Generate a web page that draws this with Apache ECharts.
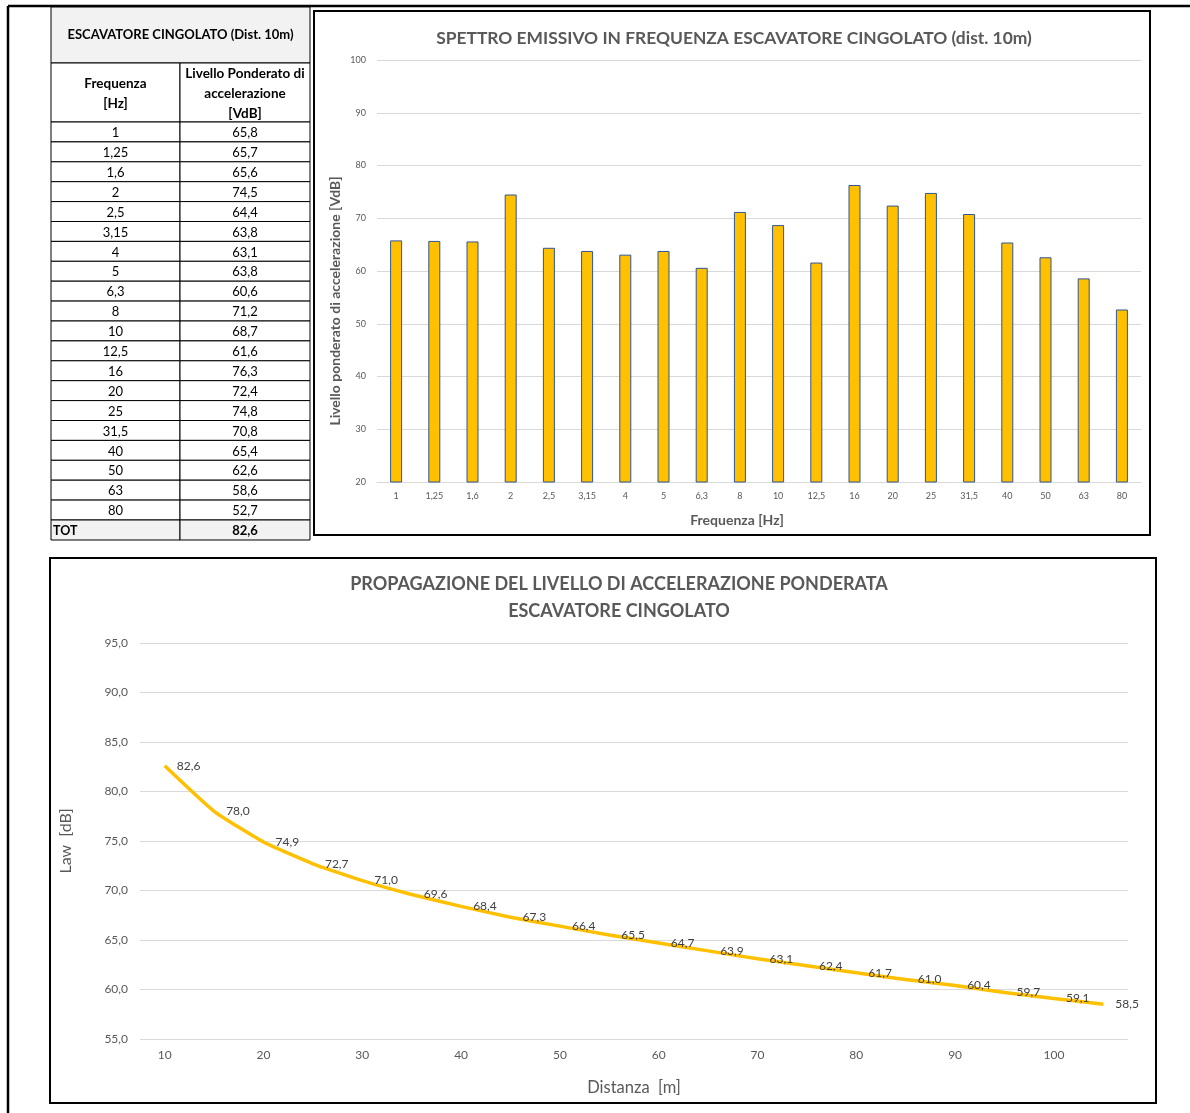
<!DOCTYPE html>
<html><head><meta charset="utf-8">
<script src="https://cdn.jsdelivr.net/npm/echarts@6/dist/echarts.min.js"></script>
<style>html,body{margin:0;padding:0;background:#fff}#c{width:1190px;height:1113px}</style>
</head><body><div id="c"></div>
<script>
// ---- DATA ----
const frequencies = ['1','1,25','1,6','2','2,5','3,15','4','5','6,3','8','10','12,5','16','20','25','31,5','40','50','63','80'];
const levels = [65.8,65.7,65.6,74.5,64.4,63.8,63.1,63.8,60.6,71.2,68.7,61.6,76.3,72.4,74.8,70.8,65.4,62.6,58.6,52.7];
const totalLevel = 82.6;
const distances = ['10','15','20','25','30','35','40','45','50','55','60','65','70','75','80','85','90','95','100','105'];
const lawValues = [82.6,78.0,74.9,72.7,71.0,69.6,68.4,67.3,66.4,65.5,64.7,63.9,63.1,62.4,61.7,61.0,60.4,59.7,59.1,58.5];

const FONT = 'Lato, "Open Sans", sans-serif';
const GRAY = '#595959';
const fmt1 = v => Number(v).toFixed(1).replace('.', ',');

// ---- TABLE (graphic) ----
const tX0 = 51, tX1 = 180, tX2 = 310;
const g = [];
g.push({type:'line', shape:{x1:8,y1:6,x2:8,y2:1113}, style:{stroke:'#000',lineWidth:2.5}});
g.push({type:'line', shape:{x1:8,y1:6,x2:1190,y2:6}, style:{stroke:'#000',lineWidth:2.5}});
g.push({type:'rect', shape:{x:314,y:11,width:836,height:524}, style:{fill:'none',stroke:'#000',lineWidth:2}});
g.push({type:'rect', shape:{x:50,y:558,width:1106,height:545}, style:{fill:'none',stroke:'#000',lineWidth:2}});
g.push({type:'rect', shape:{x:tX0,y:7,width:tX2-tX0,height:56}, style:{fill:'#f2f2f2',stroke:'#000',lineWidth:1}});
g.push({type:'text', x:(tX0+tX2)/2, y:35, style:{text:'ESCAVATORE CINGOLATO (Dist. 10m)', font:'bold 13px '+FONT, fill:'#000', align:'center', verticalAlign:'middle'}});
g.push({type:'rect', shape:{x:tX0,y:63,width:tX1-tX0,height:59}, style:{fill:'#fff',stroke:'#000',lineWidth:1}});
g.push({type:'rect', shape:{x:tX1,y:63,width:tX2-tX1,height:59}, style:{fill:'#fff',stroke:'#000',lineWidth:1}});
g.push({type:'text', x:(tX0+tX1)/2, y:94, style:{text:'Frequenza\n[Hz]', font:'bold 13.5px '+FONT, lineHeight:20, fill:'#000', align:'center', verticalAlign:'middle'}});
g.push({type:'text', x:(tX1+tX2)/2, y:94, style:{text:'Livello Ponderato di\naccelerazione\n[VdB]', font:'bold 13.5px '+FONT, lineHeight:20, fill:'#000', align:'center', verticalAlign:'middle'}});
const rowH = (520-122)/frequencies.length;
frequencies.forEach((f,i)=>{
  const y = 122 + i*rowH;
  g.push({type:'rect', shape:{x:tX0,y:y,width:tX1-tX0,height:rowH}, style:{fill:'#fff',stroke:'#000',lineWidth:1}});
  g.push({type:'rect', shape:{x:tX1,y:y,width:tX2-tX1,height:rowH}, style:{fill:'#fff',stroke:'#000',lineWidth:1}});
  g.push({type:'text', x:(tX0+tX1)/2, y:y+rowH/2+1, style:{text:f, font:'13px '+FONT, fill:'#000', align:'center', verticalAlign:'middle'}});
  g.push({type:'text', x:(tX1+tX2)/2, y:y+rowH/2+1, style:{text:fmt1(levels[i]), font:'13px '+FONT, fill:'#000', align:'center', verticalAlign:'middle'}});
});
g.push({type:'rect', shape:{x:tX0,y:520,width:tX1-tX0,height:20}, style:{fill:'#f2f2f2',stroke:'#000',lineWidth:1}});
g.push({type:'rect', shape:{x:tX1,y:520,width:tX2-tX1,height:20}, style:{fill:'#f2f2f2',stroke:'#000',lineWidth:1}});
g.push({type:'text', x:tX0+2, y:531, style:{text:'TOT', font:'bold 12.5px '+FONT, fill:'#000', align:'left', verticalAlign:'middle'}});
g.push({type:'text', x:(tX1+tX2)/2, y:531, style:{text:fmt1(totalLevel), font:'bold 13px '+FONT, fill:'#000', align:'center', verticalAlign:'middle'}});
g.push({type:'text', x:335, y:301, rotation:Math.PI/2, style:{text:'Livello ponderato di accelerazione [VdB]', font:'bold 14px '+FONT, fill:GRAY, align:'center', verticalAlign:'middle'}});
g.push({type:'text', x:737, y:520, style:{text:'Frequenza [Hz]', font:'bold 14px '+FONT, fill:GRAY, align:'center', verticalAlign:'middle'}});

const chart = echarts.init(document.getElementById('c'), null, {renderer:'canvas'});
chart.setOption({
  animation:false,
  backgroundColor:'#fff',
  textStyle:{fontFamily:FONT},
  title:[
    {text:'SPETTRO EMISSIVO IN FREQUENZA ESCAVATORE CINGOLATO (dist. 10m)', left:729, top:25, textAlign:'center',
     textStyle:{fontSize:17.4, fontWeight:'bold', color:GRAY, fontFamily:FONT}},
    {text:'PROPAGAZIONE DEL LIVELLO DI ACCELERAZIONE PONDERATA\nESCAVATORE CINGOLATO', left:614, top:566, textAlign:'center',
     textStyle:{fontSize:18, fontWeight:'bold', color:GRAY, fontFamily:FONT, lineHeight:27}}
  ],
  grid:[
    {left:377, right:49, top:60, bottom:631},
    {left:140, right:62, top:643, bottom:74}
  ],
  xAxis:[
    {type:'category', gridIndex:0, data:frequencies, axisTick:{show:false},
     axisLine:{show:true, lineStyle:{color:'#d9d9d9'}},
     axisLabel:{fontSize:9, color:GRAY, margin:10, interval:0}},
    {type:'category', gridIndex:1, data:distances, axisTick:{show:false},
     axisLine:{show:false},
     axisLabel:{fontSize:12, color:GRAY, margin:10, interval:1},
     name:'Distanza  [m]', nameLocation:'middle', nameGap:40,
     nameTextStyle:{fontSize:16.5, color:GRAY}}
  ],
  yAxis:[
    {type:'value', gridIndex:0, min:20, max:100, interval:10,
     axisLine:{show:false}, axisTick:{show:false},
     axisLabel:{fontSize:9, color:GRAY, margin:11},
     splitLine:{lineStyle:{color:'#d9d9d9'}}},
    {type:'value', gridIndex:1, min:55, max:95, interval:5,
     axisLine:{show:false}, axisTick:{show:false},
     axisLabel:{fontSize:12, color:GRAY, margin:12, formatter:fmt1},
     splitLine:{lineStyle:{color:'#d9d9d9'}},
     name:'Law  [dB]', nameLocation:'middle', nameGap:66,
     nameTextStyle:{fontSize:16, color:GRAY}}
  ],
  series:[
    {type:'bar', xAxisIndex:0, yAxisIndex:0, data:levels, barWidth:12,
     itemStyle:{color:'#FFC000', borderColor:'#2F5597', borderWidth:1}},
    {type:'line', xAxisIndex:1, yAxisIndex:1, data:lawValues, smooth:0.15, showSymbol:true, symbol:'circle', symbolSize:0.1,
     itemStyle:{color:'#FFC000'},
     lineStyle:{color:'#FFC000', width:3.5},
     label:{show:true, position:'right', distance:12, formatter:p=>fmt1(p.value), fontSize:12, color:'#404040'}}
  ],
  graphic:g
});
</script></body></html>
